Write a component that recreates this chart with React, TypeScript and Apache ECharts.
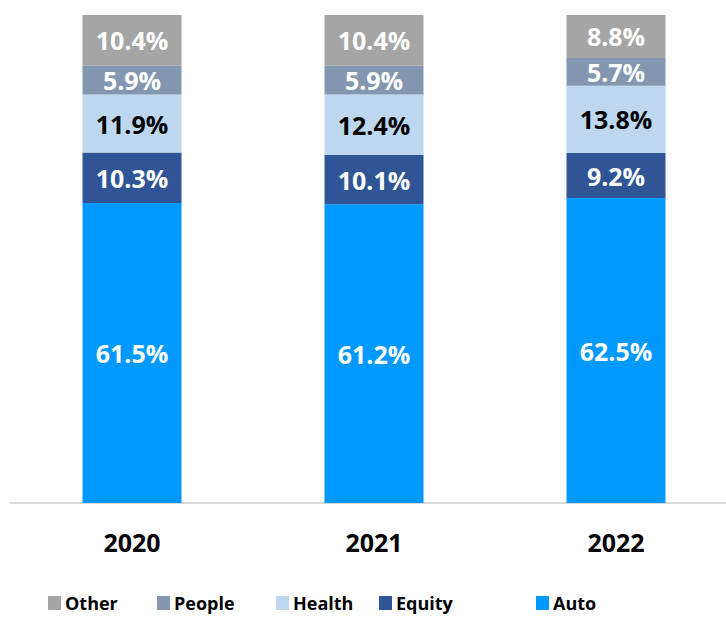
import React, { useEffect, useRef } from "react";
import * as echarts from "echarts";

const years = ["2020", "2021", "2022"];
const auto = [61.5, 61.2, 62.5];
const equity = [10.3, 10.1, 9.2];
const health = [11.9, 12.4, 13.8];
const people = [5.9, 5.9, 5.7];
const other = [10.4, 10.4, 8.8];

const FONT = "'Open Sans', 'Noto Sans', sans-serif";

export default function App() {
  const ref = useRef<HTMLDivElement>(null);
  useEffect(() => {
    if (!ref.current) return;
    const chart = echarts.init(ref.current, undefined, { renderer: "svg" });
    const mk = (name: string, data: number[], color: string, labelColor: string) => ({
      name,
      type: "bar",
      stack: "total",
      barWidth: 99,
      data,
      itemStyle: { color },
      label: {
        show: true,
        position: "inside",
        formatter: (p: any) => p.value.toFixed(1) + "%",
        color: labelColor,
        fontFamily: FONT,
        fontWeight: "bold",
        fontSize: 25,
      },
    });
    const legendItem = (name: string, left: number) => ({
      data: [name],
      left,
      top: 594,
      padding: 0,
      itemWidth: 13,
      itemHeight: 14,
      icon: "rect",
      textStyle: { fontFamily: FONT, fontWeight: "bold", fontSize: 18, color: "#000", padding: [0, 0, 0, -1] },
    });
    chart.setOption({
      animation: false,
      legend: [
        legendItem("Other", 48),
        legendItem("People", 157),
        legendItem("Health", 276),
        legendItem("Equity", 379),
        legendItem("Auto", 536),
      ],
      grid: { left: 11, top: 15, width: 726, height: 488 },
      xAxis: {
        type: "category",
        data: years,
        axisLine: { show: true, lineStyle: { color: "#d9d9d9", width: 2 } },
        axisTick: { show: false },
        axisLabel: {
          margin: 26,
          fontFamily: FONT,
          fontWeight: "bold",
          fontSize: 25,
          color: "#000",
        },
      },
      yAxis: { type: "value", min: 0, max: 100, show: false, splitLine: { show: false } },
      series: [
        mk("Auto", auto, "#0099FF", "#fff"),
        mk("Equity", equity, "#2F5597", "#fff"),
        mk("Health", health, "#BDD7EE", "#000"),
        mk("People", people, "#8497B0", "#fff"),
        mk("Other", other, "#A5A5A5", "#fff"),
      ],
    });
    return () => chart.dispose();
  }, []);
  return (
    <div style={{ position: "fixed", left: 0, top: 0, width: 726, height: 620, overflow: "hidden", background: "#fff" }}>
      <div ref={ref} style={{ width: 760, height: 620 }} />
    </div>
  );
}
